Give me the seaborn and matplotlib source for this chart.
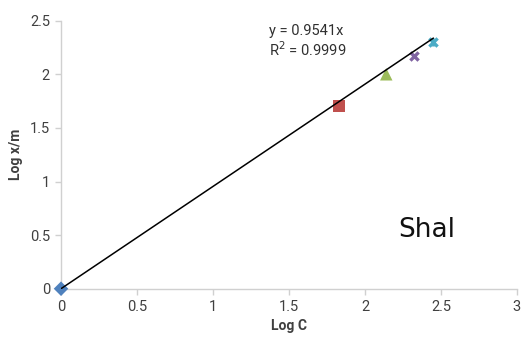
import matplotlib
matplotlib.use("Agg")
import matplotlib.pyplot as plt
import seaborn as sns
import pandas as pd
import numpy as np

# Freundlich isotherm data (log-log)
log_c = [0.0, 1.83, 2.14, 2.32, 2.45]
log_xm = [0.0, 1.70, 2.00, 2.17, 2.30]
series = ["s1", "s2", "s3", "s4", "s5"]
slope = 0.9541
r_squared = 0.9999
x_ticks = [0, 0.5, 1, 1.5, 2, 2.5, 3]
y_ticks = [0, 0.5, 1, 1.5, 2, 2.5]

sns.set_theme(style="white")
plt.rcParams["font.family"] = ["Roboto", "DejaVu Sans"]

df = pd.DataFrame({"Log C": log_c, "Log x/m": log_xm, "series": series})

palette = {"s1": "#4F81BD", "s2": "#C0504D", "s3": "#9BBB59", "s4": "#8064A2", "s5": "#4BACC6"}
markers = {"s1": "D", "s2": "s", "s3": "^", "s4": "x", "s5": "x"}
sizes = {"s1": 55, "s2": 75, "s3": 80, "s4": 35, "s5": 35}

fig = plt.figure(figsize=(5.31, 3.37), dpi=100)
ax = fig.add_axes([0.1149, 0.1433, 0.9736 - 0.1149, 0.9386 - 0.1433])

for s in series:
    sub = df[df["series"] == s]
    m = markers[s]
    if m == "x":
        kw = dict(linewidth=2.4)
    else:
        kw = dict(edgecolor="none", linewidth=0)
    sns.scatterplot(data=sub, x="Log C", y="Log x/m", color=palette[s], marker=m,
                    s=sizes[s], ax=ax, legend=False, zorder=3, clip_on=False, **kw)
    if s == "s5":
        # star marker: the cross plus a vertical stroke
        sns.scatterplot(data=sub, x="Log C", y="Log x/m", color=palette[s], marker="|",
                        s=40, linewidth=2.0, ax=ax, legend=False, zorder=3, clip_on=False)

# Linear trendline through the origin
x_fit = np.array([0.0, max(log_c)])
sns.lineplot(x=x_fit, y=slope * x_fit, color="black", linewidth=1.1, ax=ax, zorder=4)

ax.set_xlim(0, 3)
ax.set_ylim(0, 2.5)
ax.set_xticks(x_ticks)
ax.set_yticks(y_ticks)
ax.set_xticklabels([f"{v:g}" for v in x_ticks])
ax.set_yticklabels([f"{v:g}" for v in y_ticks])

for side in ["top", "right"]:
    ax.spines[side].set_visible(False)
for side in ["left", "bottom"]:
    ax.spines[side].set_color("#D0D0D0")
    ax.spines[side].set_linewidth(1.0)

ax.tick_params(axis="both", which="major", direction="out", length=4, width=1.0,
               color="#D0D0D0", labelsize=10.5, labelcolor="#404040", pad=4, bottom=True, left=True)

ax.set_xlabel("Log C", fontsize=10, fontweight="bold", color="#404040", labelpad=4)
ax.set_ylabel("Log x/m", fontsize=10, fontweight="bold", color="#404040", labelpad=5)

ax.text(1.37, 2.40, f"y = {slope}x", fontsize=10.5, color="#303030", ha="left", va="center")
ax.text(1.37, 2.23, f"R$^2$ = {r_squared}", fontsize=10.5, color="#303030", ha="left", va="center")

ax.text(2.22, 0.55, "Shal", fontsize=19, color="#111111", ha="left", va="center",
        family="DejaVu Sans")

fig.savefig("out.png", dpi=100)
